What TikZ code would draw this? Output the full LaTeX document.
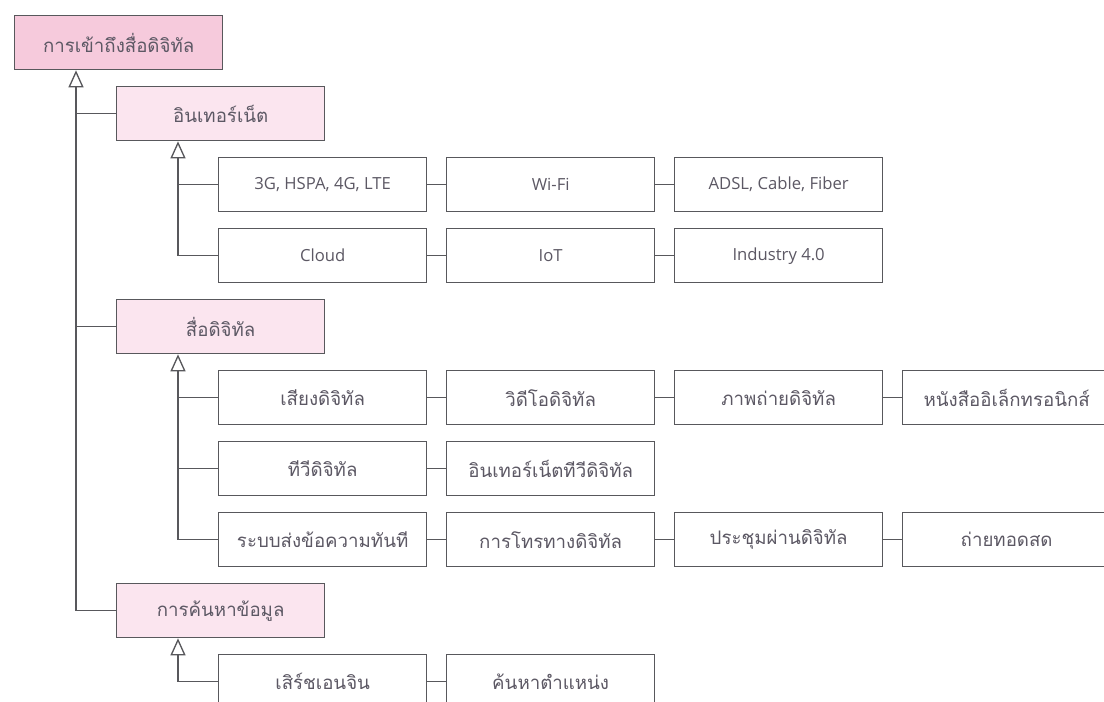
\documentclass[tikz,border=0pt]{standalone}
\usepackage{fontspec}
\setmainfont[Script=Thai]{Loma}
\newfontfamily\latinfont{Open Sans}
\usetikzlibrary{arrows.meta,calc}

\definecolor{edgegray}{RGB}{88,88,92}
\definecolor{txtgray}{RGB}{92,88,100}
\definecolor{rootpink}{RGB}{246,202,220}
\definecolor{lvlpink}{RGB}{251,229,239}

\tikzset{every picture/.style={line width=0.75pt}}
\tikzset{
  box/.style={draw=edgegray, fill=white, line width=1pt, minimum width=156pt, minimum height=40.5pt,
    inner sep=0pt, anchor=north west, text=txtgray, font=\fontsize{14}{16}\selectfont},
  topbox/.style={box, fill=rootpink},
  subbox/.style={box, fill=lvlpink},
  lat/.style={font=\fontsize{12.5}{15}\selectfont\latinfont},
  link/.style={draw=edgegray, line width=1pt},
  isa/.style={link, -{Triangle[open, length=12.75pt, width=11.25pt]}},
}

\begin{document}
\begin{tikzpicture}[x=0.75pt,y=0.75pt,yscale=-1,xscale=1]
\useasboundingbox (0,0) rectangle (1104,701);
\clip (0,0) rectangle (1104,701);
\fill[white] (0,0) rectangle (1104,701);

%Shape: Rectangle [root]
\node[topbox] (root) at (14,15) {การเข้าถึงสื่อดิจิทัล};
%Shape: Rectangle [level 1]
\node[subbox] (net) at (116,86) {อินเทอร์เน็ต};
\node[subbox] (media) at (116,299) {สื่อดิจิทัล};
\node[subbox] (search) at (116,583) {การค้นหาข้อมูล};

%Shape: Rectangle [internet]
\node[box, lat] (mobile) at (218,157) {3G, HSPA, 4G, LTE};
\node[box, lat] (wifi) at (446,157) {Wi-Fi};
\node[box, lat] (adsl) at (674,157) {ADSL, Cable, Fiber};
\node[box, lat] (cloud) at (218,228) {Cloud};
\node[box, lat] (iot) at (446,228) {IoT};
\node[box, lat] (ind) at (674,228) {Industry 4.0};

%Shape: Rectangle [digital media]
\node[box] (audio) at (218,370) {เสียงดิจิทัล};
\node[box] (video) at (446,370) {วิดีโอดิจิทัล};
\node[box] (photo) at (674,370) {ภาพถ่ายดิจิทัล};
\node[box] (ebook) at (902,370) {หนังสืออิเล็กทรอนิกส์};
\node[box] (dtv) at (218,441) {ทีวีดิจิทัล};
\node[box] (iptv) at (446,441) {อินเทอร์เน็ตทีวีดิจิทัล};
\node[box] (chat) at (218,512) {ระบบส่งข้อความทันที};
\node[box] (call) at (446,512) {การโทรทางดิจิทัล};
\node[box] (meet) at (674,512) {ประชุมผ่านดิจิทัล};
\node[box] (live) at (902,512) {ถ่ายทอดสด};

%Shape: Rectangle [search]
\node[box] (engine) at (218,654) {เสิร์ชเอนจิน};
\node[box] (locate) at (446,654) {ค้นหาตำแหน่ง};

%Straight Lines [trunk]
\coordinate (r0) at ($(root.south west)+(62,0)$);
\draw[isa] (search.west) -| (r0);
\draw[link] (net.west) -- (net.west -| r0);
\draw[link] (media.west) -- (media.west -| r0);

%Straight Lines [internet]
\coordinate (n0) at ($(net.south west)+(62,0)$);
\draw[isa] (cloud.west) -| (n0);
\draw[link] (mobile.west) -- (mobile.west -| n0);
\draw[link] (mobile.east) -- (wifi.west);
\draw[link] (wifi.east) -- (adsl.west);
\draw[link] (cloud.east) -- (iot.west);
\draw[link] (iot.east) -- (ind.west);

%Straight Lines [digital media]
\coordinate (m0) at ($(media.south west)+(62,0)$);
\draw[isa] (chat.west) -| (m0);
\draw[link] (audio.west) -- (audio.west -| m0);
\draw[link] (dtv.west) -- (dtv.west -| m0);
\draw[link] (audio.east) -- (video.west);
\draw[link] (video.east) -- (photo.west);
\draw[link] (photo.east) -- (ebook.west);
\draw[link] (dtv.east) -- (iptv.west);
\draw[link] (chat.east) -- (call.west);
\draw[link] (call.east) -- (meet.west);
\draw[link] (meet.east) -- (live.west);

%Straight Lines [search]
\coordinate (s0) at ($(search.south west)+(62,0)$);
\draw[isa] (engine.west) -| (s0);
\draw[link] (engine.east) -- (locate.west);

\end{tikzpicture}
\end{document}
